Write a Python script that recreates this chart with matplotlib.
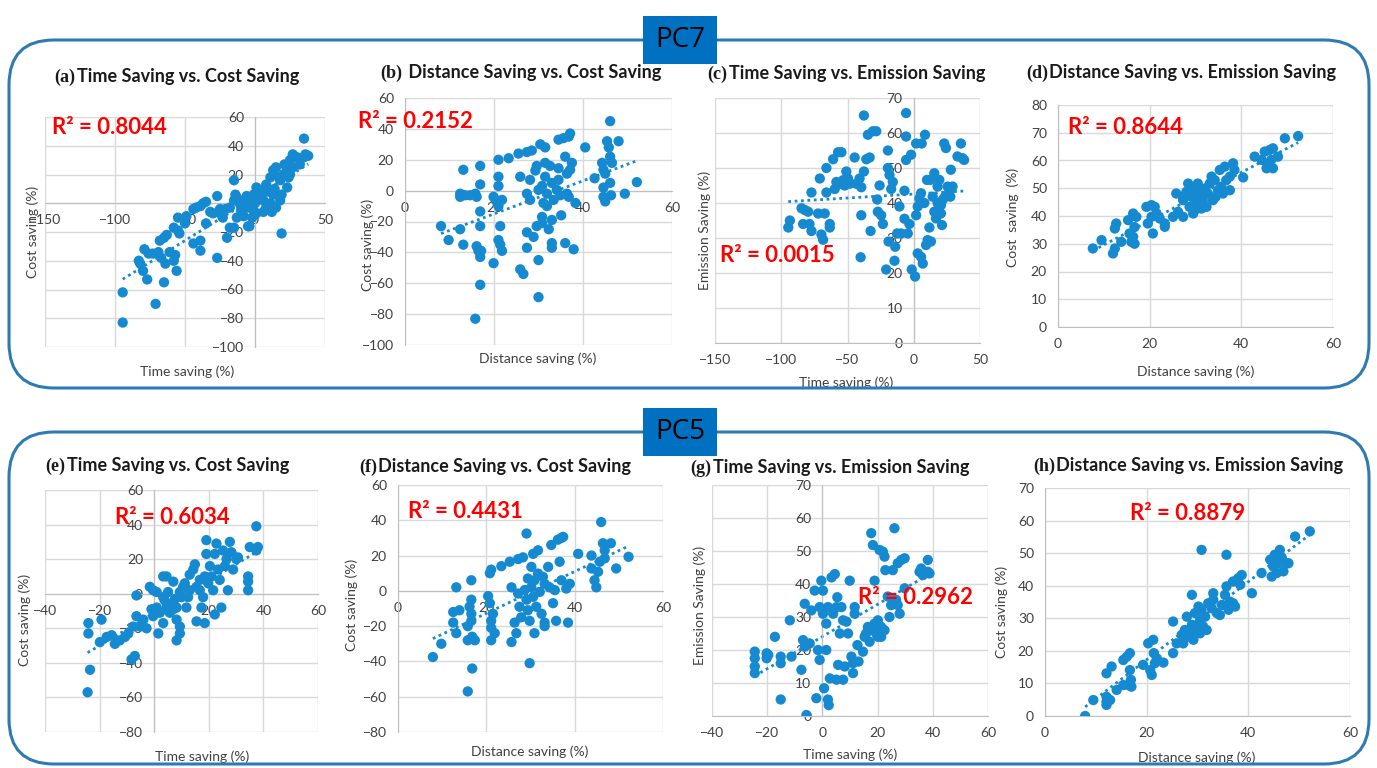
import numpy as np
import matplotlib
matplotlib.use("Agg")
import matplotlib.pyplot as plt
from matplotlib.patches import FancyBboxPatch, Rectangle
from matplotlib.offsetbox import TextArea, HPacker, AnnotationBbox

W, H = 1377, 768

# (a) PC7 time saving vs cost saving
a_x = [-94.5, -94.5, -71, -77, -65, -83, -82, -80, -79, -76, -73, -69, -68, -65, -63, -67, -64, -61, -58, -56,
       -57, -58, -55, -54, -55, -50, -49, -44, -42, -39, -37, -35, -27, -44, -39, -39, -27, -35, -30, -25,
       -23, -21, -18, -15, -14, -13, -11, -10, -7, -6, -5, -20, -18, -15, -4, -15, 1, 4, 6, 8,
       0, -1, 11, 15, 8, 11, 13, 15, 18, 20, 23, 25, 27, 30, 32, 35, 36, 38, 35, 27,
       25, 23, 19, 18, 13, 19, 5, 2, 6, 10, 14, 17, 21, 24, -1, -4, -2, -5, -13, -8,
       1, 6, 12, -25, -32]
a_y = [-62, -83, -70, -53, -55, -40, -42, -47, -32, -35, -35, -34, -26, -24, -22, -38, -42, -34, -40, -47,
       -36, -17, -19, -21, -10, -14, -9, -4, -3, -2, 0, 1, 5, -28, -26, -33, -38, -14, -7, -7,
       -10, -4, -3, 2, 6, 4, 0, -5, 2, 5, -3, -24, -17, -17, -16, 16, 11, 6, 2, -3,
       0, -5, 0, -3, 13, 18, 23, 25, 16, 20, 23, 30, 34, 32, 27, 32, 34, 33, 45, 25,
       20, 11, 6, 2, 6, -21, 6, 4, 9, 8, 10, 18, 27, 18, 6, 2, -10, -16, -10, -9,
       -7, -6, -6, -4, -6]

# (b) PC7 distance saving vs cost saving
b_x = [8.1, 9.8, 12.4, 13.1, 13.1, 12.4, 12.4, 13.5, 14.6, 15.8, 16.1, 16.9, 16.9, 16.9, 16.9, 16.1, 16.5, 16.9, 17.1, 16.9,
       15.8, 19.9, 19.9, 20.3, 21, 21, 21, 21, 21.4, 21, 21.4, 21.8, 21.8, 23.3, 25.5, 25.9, 25.9, 26.6, 27.4, 27.4,
       27.4, 27.4, 28.1, 28.1, 28.5, 28.9, 29.3, 29.6, 29.6, 30, 30, 30, 30.4, 30.8, 30.8, 30.8, 31.1, 31.5, 31.5, 31.5,
       31.9, 31.9, 32.3, 32.6, 33, 33, 33, 33.4, 34.1, 34.5, 34.9, 34.5, 34.5, 33, 35.1, 35.6, 36, 36, 36.4, 36.8,
       37.1, 36.4, 37.1, 37.5, 37.9, 38.3, 36.8, 40.5, 42.6, 44.3, 44.6, 45, 44.6, 44.6, 45, 45.4, 45.8, 46.1, 46.1, 46.1,
       46.5, 46.3, 48, 49.4, 52.1]
b_y = [-23, -32, -25, -35, 13.5, -2, -4, -3, -3, -2, -4, 16, 4, -13.5, -23, -36, -39, -43, -39, -61,
       -83, -47, -4, -6, 20, 9, 3, -10, -23, -32, -35, -39, -6, 21, 24, 9, -51, -54, 25, -2,
       -27, -37, -6, 7, 26, -30, 13, 16, -23, 0.5, -69, -45, 30, 3, -17, -21, -8, 18, 9, 28,
       -2, -10, -25, 16, 5, -19, -34, -6, 0.5, 7, -3, 33, 14.5, -37, -16, 34, 22, -34, -2, 35,
       37, 11, 13.5, 18, -38, -8, -4, 28, 8, 18, 13.5, 11, 2, -4, -7, 32, 28, 22, 45, 5,
       18, -3, 32, -2, 5.5]

# (c) PC7 time saving vs emission saving
c_x = [-94.7, -93.5, -84.7, -82.2, -79.7, -77.2, -83.5, -78.7, -77.2, -72.2, -67.2, -70.9, -69.7, -68.4, -65.9, -65.9, -63.4, -63.4, -60.9, -59.6,
       -58.4, -57.1, -55.9, -54.6, -53.4, -52.1, -50.9, -49.6, -48.4, -44.6, -43.4, -40.9, -39.6, -40.1, -39.6, -37.6, -37.6, -35.8, -34.6, -33.3,
       -32.6, -30.8, -28.3, -27.6, -27.1, -25.8, -24.6, -23.3, -20.8, -19.5, -19.5, -19, -18.3, -17, -15.8, -14.5, -14, -12.5, -10.8, -9.5,
       -7, -7, -5.8, -5.8, -5.8, -4.5, -3.3, -2, -1.5, 1, 1.8, 1.8, 3, 3, 4.3, 5.5, 5.5, 6, 6.8, 8,
       8.5, 9.3, 10, 10.5, 11.8, 12.5, 13, 14.3, 15.5, 15.5, 16.8, 18, 18, 19.3, 20.5, 20.5, 21.3, 21.8, 23, 23.6,
       24.3, 25.6, 26.8, 27.6, 28, 29.3, 33, 35.6, 36.8, 38]
c_y = [33, 35, 38.5, 38, 37.5, 43, 34, 34, 32, 37, 37, 47, 31, 29.5, 43, 50, 34, 33, 52.5, 44,
       46, 54.5, 45.5, 54.5, 46.5, 45, 49, 47, 45.5, 53, 45.5, 47, 44.5, 24.5, 36.5, 65, 49, 52.5, 59.5, 53,
       32, 60.5, 60.5, 41, 37.5, 45, 36.5, 34, 21, 55, 50, 29, 48, 44, 46, 23.5, 27.5, 31.3, 39, 31.3,
       43.5, 35.5, 65.7, 59, 52.3, 31.3, 34, 53.8, 21, 19, 57, 36.5, 39, 25.6, 41.3, 24.6, 42.8, 57, 22.7, 40,
       59.5, 28, 46.6, 29.4, 33, 46.6, 29, 41.8, 48.5, 37.5, 35.6, 44.7, 40, 46.6, 37, 39.4, 33.7, 40.9, 57, 41.8,
       55.7, 44.7, 43.3, 41.8, 49.5, 44.7, 53.3, 57, 52.8, 52.3]

# (d) PC7 distance saving vs emission saving
d_x = [7.6, 9.5, 12, 12.4, 12.4, 12.7, 13.8, 15.3, 15.6, 16.4, 16.4, 16.7, 16.7, 19.3, 19.6, 20.4, 20.7, 21.1, 21.5, 23.3,
       23.3, 25.1, 25.8, 26.2, 27.3, 27.3, 28, 28.4, 28.7, 29.1, 29.5, 29.8, 30.2, 30.5, 30.9, 31.3, 31.6, 32, 32.4, 32.7,
       33.1, 33.5, 34.2, 34.4, 34.9, 35.3, 35.6, 36, 36.4, 36.7, 37.5, 38.2, 38.5, 37.5, 40.4, 42.9, 44.4, 45.1, 45.5, 46.2,
       46.5, 46.9, 48, 49.5, 52.4, 45.8, 46.9, 30.9, 29.8, 33.8, 27.3, 20.4, 22.2, 17.1, 16]
d_y = [28.3, 31.3, 26.5, 28.3, 35.5, 37.3, 30.7, 38.5, 33.7, 32.5, 40.9, 30, 36, 43.3, 37.3, 39.7, 33.7, 43.3, 40.9, 37.3,
       36.1, 39.7, 48.1, 41.5, 39.7, 45.7, 48.7, 51.7, 43.3, 46.9, 40.9, 49.9, 44.5, 51.7, 48.1, 42.7, 45.7, 49.9, 43.3, 48.1,
       51.7, 54.2, 52.9, 46.9, 49.3, 56.6, 50.5, 48.1, 57.8, 52.9, 49.3, 59, 56.6, 54.2, 53.9, 61.4, 60.2, 63.2, 57.2, 63.8,
       60.2, 64.4, 61.4, 68, 68.8, 58.4, 57.2, 46.3, 42.1, 45.7, 46.9, 43.9, 39.1, 39.7, 30.7]

# (e) PC5 time saving vs cost saving
e_x = [-24.1, -24.1, -23.5, -24.4, -19.9, -19.3, -17.4, -15.6, -14.4, -12.6, -10.7, -9.5, -8.3, -7.1, -7.7, -6.5, -5.2, -4, -2.8, -6.5,
       -1.6, -0.4, 0.9, -1, -0.4, 0.9, 1.5, 2.1, 3.3, 3.9, 4.5, 5.1, 5.7, 6.3, 7, 7.6, 8.2, 8.2, 9.4, 9.4,
       10, 10.6, 11.2, 3.3, 4.5, 7, 11.8, 12.4, 13, 14.3, 14.9, 15.5, 16.7, 17.3, 17.9, 18.5, 18.5, 19.1, 19.1, 19.8,
       20.4, 21, 21.6, 22.2, 22.2, 22.8, 23.4, 24, 24.6, 25.2, 25.9, 26.5, 27, 27.7, 28.3, 28.9, 30.1, 30.7, 34.4, 34.4,
       34.4, 35, 37.4, 38, 37.4, 15.5, 16.7, 13, 9.4, 3.3, 8.2]
e_y = [-17, -23, -44, -57, -28, -15, -25, -24, -29, -27, -25, -23, -38, -36, -19, -13, -19, -15, -20, -1,
       4, 2, 1, -9, -13, -8, -23, -11, -17, -4, -8, 1, -11, -6, -9, -3, -15, -27, -23, -19,
       -2, 4, 6, 10, 10, 7, -8, -2, 11, 14, 17, -16, 2, -8, -2, 10, -17, 31, 23, 6,
       16, 10, 2, -12, 23, 29, 14, 8, -8, 25, 16, 20, 2, 30, 24, 14, 20, 21, 10, 7,
       2, 27, 39, 27, 25, 4, 8, 2, 1, -2, -8]

# (f) PC5 distance saving vs cost saving
f_x = [7.9, 9.8, 12.5, 12.5, 13.2, 13.2, 13.9, 15.8, 15.8, 15.8, 16.2, 16.6, 16.6, 16.6, 16.6, 16.8, 16.8, 17.4, 20.4, 20.8,
       20.8, 21.1, 21.1, 21.1, 21.1, 21.5, 21.9, 23.4, 25.3, 25.7, 25.7, 26.4, 26.8, 27.2, 27.2, 27.5, 27.9, 28.3, 28.7, 29.1,
       29.1, 29.4, 29.4, 29.8, 29.8, 30.2, 30.2, 30.6, 30.6, 30.9, 30.9, 31.3, 31.7, 31.7, 32.1, 32.5, 32.8, 33.2, 33.2, 33.2,
       34, 34.3, 34.7, 35.1, 35.5, 35.8, 36.2, 36.6, 37, 37, 37.4, 38.1, 38.5, 38.9, 40.8, 43.8, 43.8, 44.5, 44.9, 45.3,
       45.7, 46, 46.4, 46.8, 46.8, 48.2, 49.4, 52.2]
f_y = [-37.5, -30, -12, -18, 2, -24, -11, -20, -28, -57, -9, 6, -5, -13, -17, -26, -44, -28, -3, -7,
       10, 12, -17, -21, -28, -13, -24, 14, 16.5, 2, -29, -18, -24, 18, -1.5, -9, -15, 19, 0.5, 32.5,
       -5, -11, 7, -17, -41, 13.6, 2, 21, -3.4, 6, -24, -9, 23, 9.8, -0.6, -13, 8, 4, -18, -20,
       13.6, 2, 26, -7, 0.4, -17, 29, 16.5, 30, 6, 30.6, 1.3, -18, 4, 21, 20, 12.7, 6, 2, 10.8,
       16.5, 39, 27, 23, 18.4, 27, 12.7, 19.3]

# (g) PC5 time saving vs emission saving
g_x = [-24.5, -24.5, -24.5, -24.5, -20.2, -20.2, -19.6, -17.2, -15.1, -15.1, -15.1, -11.8, -11.2, -7.6, -7, -6.4, -6.4, -5.8, -4.6, -4,
       -2.8, -2.2, -1.6, -1, -1, -0.4, 0.2, 0.2, 0.6, 1.4, 1.4, 2, 2, 2.3, 2.7, 3.3, 3.9, 4.5, 5.1, 5.1,
       5.4, 5.7, 6.3, 6.9, 7.5, 7.5, 8.1, 8.7, 9.3, 9.9, 10.5, 11.1, 11.1, 11.7, 11.7, 12.7, 13.1, 14.7, 15.3, 15.8,
       16.5, 17.1, 17.7, 18.3, 18.3, 18.9, 18.9, 19.5, 20.1, 20.1, 20.7, 21.3, 21.3, 21.9, 22.5, 22.5, 22.8, 23.7, 24.3, 24.9,
       25.5, 26.1, 26.7, 27.3, 27.3, 28, 28.6, 29.8, 29.8, 35.2, 35.8, 36.4, 38.2, 38.2, 38.8]
g_y = [19.5, 17.5, 15, 13, 19, 17.5, 18.5, 24, 18, 16, 5, 29, 18, 14, 23, 34, 21, 0.3, 22, 32,
       38, 5.4, 20, 17, 33, 41, 38, 31, 8.4, 20, 28, 33, 5, 3.3, 11.4, 42, 31, 43, 33, 11,
       36, 15.5, 25, 33, 29, 11, 15, 28.6, 25, 41, 18, 16, 13, 31, 33, 21.5, 16.5, 19.5, 24, 25,
       27, 22.5, 55.4, 51.8, 26, 28, 41, 25, 24, 29, 50.3, 27, 24, 49.8, 48.3, 26, 44.2, 36.2, 30, 33.6,
       44.2, 56.9, 35.2, 33.6, 46.3, 31, 47.3, 47.8, 38.7, 43.7, 44.7, 42.7, 47.3, 43.7, 43.2]

# (h) PC5 distance saving vs emission saving
h_x = [7.9, 9.5, 12.1, 12.1, 12.1, 12.1, 12.8, 13.1, 14.1, 15.4, 15.4, 16.1, 16.4, 16.7, 16.7, 16.9, 17.0, 19.3, 20.3, 20.7,
       21, 21.3, 21.4, 21.6, 22, 23.3, 25.2, 25.2, 25.9, 26.9, 27.2, 27.5, 27.9, 28.2, 28.9, 28.9, 29.2, 29.5, 29.8, 30.2,
       30.5, 30.5, 30.8, 30.8, 31.1, 31.5, 31.8, 32.1, 32.8, 33.1, 33.1, 33.8, 34.4, 34.8, 35.4, 35.7, 35.7, 36.1, 36.4, 37,
       37, 37.4, 38, 38.7, 38.4, 40.7, 42.6, 44.3, 44.6, 44.9, 45.2, 45.6, 45.9, 46.2, 46.6, 46.9, 47.5, 47.9, 49.2, 52.1,
       30.5, 29.8, 28.5]
h_y = [0, 4.9, 13.1, 5.9, 4.4, 3.4, 4.9, 15.2, 8, 17.2, 9.5, 18.2, 9.5, 19.3, 14.1, 11.1, 9, 15.7, 22.3, 14.1,
       12.6, 23.4, 19.3, 16.2, 17.7, 16.4, 29, 19.3, 22.3, 24.9, 22.3, 26.4, 30.5, 24.4, 37.2, 28, 23.4, 31.6, 26.4, 33.6,
       29, 25.4, 51, 32.6, 27.5, 30.5, 26.4, 34.6, 33.1, 37.7, 35.7, 31.6, 31, 34.1, 37.2, 49.5, 39.8, 32.6, 35.1, 41.3,
       34.6, 33.6, 42.3, 43.3, 40.3, 37.7, 43.9, 48, 42.8, 45.9, 49.5, 43.9, 46.9, 51, 48.5, 44.4, 46.9, 46.9, 55.1, 56.7,
       29.5, 27.5, 25.4]

# panel settings: data, prefix, title, labels, R² text, axis ranges, tick steps
panels = [
    (a_x, a_y, "(a)", "Time Saving vs. Cost Saving", "Time saving (%)", "Cost saving (%)", "R² = 0.8044",
     (-150, 50, 50), (-100, 60, 20)),
    (b_x, b_y, "(b)", " Distance Saving vs. Cost Saving", "Distance saving (%)", "Cost saving (%)", "R² = 0.2152",
     (0, 60, 20), (-100, 60, 20)),
    (c_x, c_y, "(c)", "Time Saving vs. Emission Saving", "Time saving (%)", "Emission Saving (%)", "R² = 0.0015",
     (-150, 50, 50), (0, 70, 10)),
    (d_x, d_y, "(d)", "Distance Saving vs. Emission Saving", "Distance saving (%)", "Cost  saving  (%)", "R² = 0.8644",
     (0, 60, 20), (0, 80, 10)),
    (e_x, e_y, "(e)", "Time Saving vs. Cost Saving", "Time saving (%)", "Cost saving (%)", "R² = 0.6034",
     (-40, 60, 20), (-80, 60, 20)),
    (f_x, f_y, "(f)", "Distance Saving vs. Cost Saving", "Distance saving (%)", "Cost saving (%)", "R² = 0.4431",
     (0, 60, 20), (-80, 60, 20)),
    (g_x, g_y, "(g)", "Time Saving vs. Emission Saving", "Time saving (%)", "Emission Saving (%)", "R² = 0.2962",
     (-40, 60, 20), (0, 70, 10)),
    (h_x, h_y, "(h)", "Distance Saving vs. Emission Saving", "Distance saving (%)", "Cost saving (%)", "R² = 0.8879",
     (0, 60, 20), (0, 70, 10)),
]

# pixel layout: plot box (left, top, right, bottom), title centre, R² left/centre, ylabel centre, xlabel centre
layout = [
    ((45, 117, 325, 347), (177, 77), (52, 128), (33, 232), (187, 372)),
    ((405, 98, 672, 345), (521, 73), (358, 122), (368, 245), (538, 359)),
    ((715, 98, 980, 343), (846, 74), (720, 255), (705, 230), (846, 383)),
    ((1058, 105, 1333, 327), (1181, 73), (1068, 128), (1013, 217), (1196, 372)),
    ((45, 490, 318, 732), (167, 466), (115, 518), (25, 620), (202, 757)),
    ((398, 485, 663, 732), (495, 467), (408, 512), (352, 605), (530, 752)),
    ((712, 485, 988, 716), (830, 468), (858, 597), (700, 605), (850, 755)),
    ((1045, 488, 1350, 716), (1188, 466), (1130, 513), (1002, 612), (1197, 758)),
]

BLUE = "#168ad0"
SANS = "Lato"

fig = plt.figure(figsize=(W / 100, H / 100), dpi=100)
fig.patch.set_facecolor("white")

for (xs, ys, pre, title, xl, yl, r2, xr, yr), (box, tpos, rpos, ylpos, xlpos) in zip(panels, layout):
    l, t, r, b = box
    ax = fig.add_axes([l / W, 1 - b / H, (r - l) / W, (b - t) / H])
    ax.set_facecolor("none")
    xs = np.array(xs)
    ys = np.array(ys)
    ax.scatter(xs, ys, s=55, color=BLUE, edgecolors="none", zorder=3)
    k, c0 = np.polyfit(xs, ys, 1)
    tx = np.array([xs.min(), xs.max()])
    ax.plot(tx, k * tx + c0, linestyle=(0, (1, 1.3)), color=BLUE, lw=2, zorder=2)

    ax.set_xlim(xr[0], xr[1])
    ax.set_ylim(yr[0], yr[1])
    ax.set_xticks(np.arange(xr[0], xr[1] + 1, xr[2]))
    ax.set_yticks(np.arange(yr[0], yr[1] + 1, yr[2]))
    ax.grid(True, color="#d9d9d9", lw=1)
    ax.set_axisbelow(True)
    for side in ["top", "right"]:
        ax.spines[side].set_visible(False)
    for side in ["left", "bottom"]:
        ax.spines[side].set_position(("data", 0))
        ax.spines[side].set_color("#bfbfbf")
    ax.tick_params(length=0, labelsize=10, labelcolor="#404040", pad=8)
    for lab in ax.get_xticklabels() + ax.get_yticklabels():
        lab.set_fontfamily(SANS)

    # title with serif panel letter
    pa = TextArea(pre, textprops=dict(family="Liberation Serif", weight="bold", size=13, color="#1a1a1a"))
    pb = TextArea(title, textprops=dict(family=SANS, weight="bold", size=13, color="#1a1a1a"))
    ab = AnnotationBbox(HPacker(children=[pa, pb], pad=0, sep=1, align="baseline"),
                        (tpos[0] / W, 1 - tpos[1] / H), xycoords="figure fraction",
                        frameon=False, box_alignment=(0.5, 0.5), pad=0)
    fig.add_artist(ab)

    fig.text(rpos[0] / W, 1 - rpos[1] / H, r2, color="#ff0000", fontsize=16, weight="bold",
             family=SANS, ha="left", va="center", zorder=20)
    fig.text(ylpos[0] / W, 1 - ylpos[1] / H, yl, rotation=90, fontsize=10, color="#404040",
             family=SANS, ha="center", va="center")
    fig.text(xlpos[0] / W, 1 - xlpos[1] / H, xl, fontsize=10, color="#404040",
             family=SANS, ha="center", va="center")

# frame layer in pixel coordinates for the group outlines and PC tags
top = fig.add_axes([0, 0, 1, 1], zorder=10)
top.set_xlim(0, W)
top.set_ylim(H, 0)
top.axis("off")
top.patch.set_alpha(0)

for (y0, y1, tag) in [(40, 388, "PC7"), (432, 764, "PC5")]:
    top.add_patch(FancyBboxPatch((9, y0), 1360, y1 - y0, boxstyle="round,pad=0,rounding_size=45",
                                 fill=False, ec="#2e7bb4", lw=2.2))
    yc = y0
    top.add_patch(Rectangle((643, yc - 24), 74, 48, fc="#0070c0", ec="none", zorder=5))
    top.text(680, yc, tag, fontsize=20, color="black", family="Open Sans", ha="center", va="center", zorder=6)

fig.savefig("out.png", dpi=100)
